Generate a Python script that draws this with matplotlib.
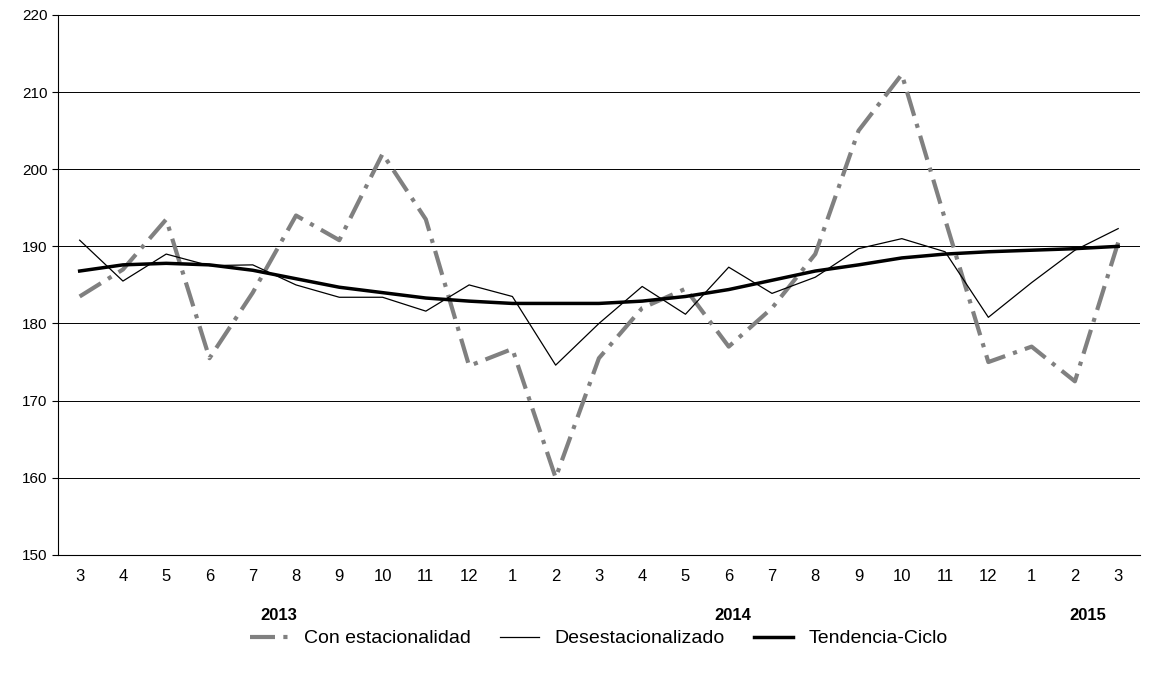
import matplotlib
matplotlib.use("Agg")
import matplotlib.pyplot as plt

labels = ["3","4","5","6","7","8","9","10","11","12","1","2","3","4","5","6","7","8","9","10","11","12","1","2","3"]
con_est = [183.5,187,193.5,175.5,184,194,190.8,202,193.5,174.5,176.7,160,175.5,182,184.5,177,182,189,205,212.3,193.5,175,177,172.5,190.5]
desest = [190.8,185.5,189,187.5,187.6,185,183.4,183.4,181.6,185,183.5,174.6,180,184.8,181.2,187.3,183.9,186,189.7,191,189.3,180.8,185.3,189.5,192.3]
tend = [186.8,187.6,187.8,187.6,186.9,185.8,184.7,184,183.3,182.9,182.6,182.6,182.6,182.9,183.5,184.4,185.6,186.8,187.6,188.5,189,189.3,189.5,189.7,190]
years = [("2013", 4.6), ("2014", 15.1), ("2015", 23.3)]

plt.rcParams['font.family'] = ['Liberation Sans', 'DejaVu Sans']
fig = plt.figure(figsize=(11.49, 6.8), dpi=100)
ax = fig.add_axes([0.0505, 0.184, 0.9415, 0.794])
x = list(range(len(labels)))
l1, = ax.plot(x, con_est, color='#808080', lw=3, linestyle=(0, (6, 2, 1, 2)), label='Con estacionalidad')
l2, = ax.plot(x, desest, color='black', lw=0.9, label='Desestacionalizado')
l3, = ax.plot(x, tend, color='black', lw=2.5, label='Tendencia-Ciclo')
ax.set_xlim(-0.5, 24.5)
ax.set_ylim(150, 220)
ax.set_yticks(range(150, 221, 10))
ax.yaxis.grid(True, color='black', lw=0.7)
ax.set_axisbelow(True)
ax.set_xticks(x)
ax.set_xticklabels(labels, fontsize=12)
ax.tick_params(axis='x', length=0, pad=10)
ax.tick_params(axis='y', labelsize=11, length=4)
for s in ['top', 'right']:
    ax.spines[s].set_visible(False)
for name, pos in years:
    ax.text(pos, -0.112, name, transform=ax.get_xaxis_transform(), ha='center', va='center', fontsize=12, fontweight='bold')
leg = ax.legend(handles=[l1, l2, l3], loc='center', bbox_to_anchor=(0.5, -0.155), ncol=3, frameon=False, fontsize=14, handlelength=2, columnspacing=1.5)
fig.savefig("out.png", dpi=100)
